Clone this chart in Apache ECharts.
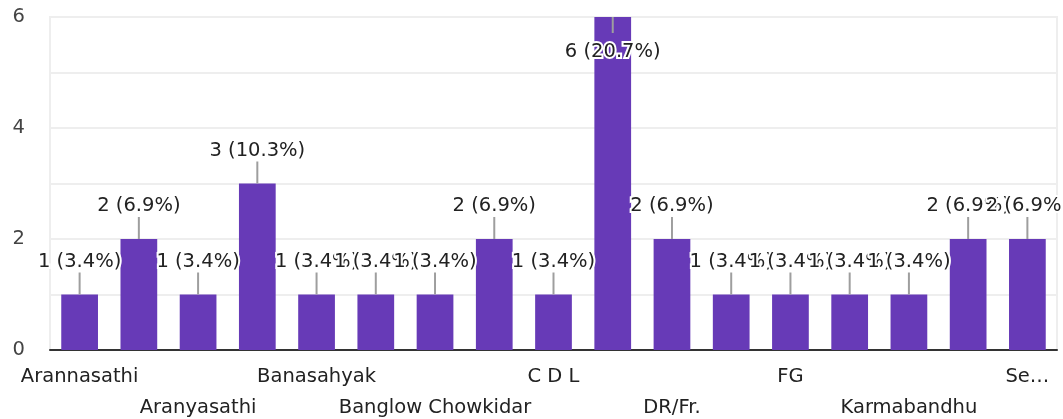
<!DOCTYPE html>
<html>
<head>
<meta charset="utf-8">
<script src="https://cdn.jsdelivr.net/npm/echarts@6/dist/echarts.min.js"></script>
<style>
  html, body { margin: 0; padding: 0; background: #fff; }
  #chart { width: 1063px; height: 419px; }
</style>
</head>
<body>
<div id="chart"></div>
<script>
// Categories (hidden labels between the shown ones are guesses; only every other label is visible)
const categories = ['Arannasathi', 'Aranya Rakshi', 'Aranyasathi', 'Banarakshi', 'Banasahyak', 'Banasramik',
  'Banglow Chowkidar', 'Beat Officer', 'C D L', 'Chowkidar', 'DR/Fr.', 'Driver', 'FG', 'Head Clerk',
  'Karmabandhu', 'Ranger', 'Se…'];
const counts = [1, 2, 1, 3, 1, 1, 1, 2, 1, 6, 2, 1, 1, 1, 1, 2, 2];
const yTicks = [0, 2, 4, 6];

const total = counts.reduce((a, b) => a + b, 0);
const FONT = '"DejaVu Sans", sans-serif';
const FS = 19.5;

const chart = echarts.init(document.getElementById('chart'), null, { renderer: 'canvas' });

const option = {
  animation: false,
  backgroundColor: '#ffffff',
  grid: {
    left: 50, right: 6, top: 17, bottom: 69,
    containLabel: false,
    outerBoundsMode: 'none',
    show: true, borderColor: '#eeeeee', borderWidth: 2
  },
  xAxis: {
    type: 'category',
    data: categories,
    axisTick: { show: false },
    axisLine: { lineStyle: { color: '#333333', width: 2 } },
    axisLabel: {
      interval: 1,
      margin: 11,
      lineHeight: 31,
      fontSize: FS,
      fontFamily: FONT,
      color: '#222222',
      formatter: (value, index) => (index % 4 === 2 ? '\n' + value : value)
    }
  },
  yAxis: {
    type: 'value',
    min: 0,
    max: 6,
    interval: 1,
    axisLine: { show: true, lineStyle: { color: '#eeeeee', width: 2 } },
    axisTick: { show: false },
    splitLine: { lineStyle: { color: '#eeeeee', width: 2 } },
    axisLabel: {
      margin: 25,
      fontSize: FS,
      fontFamily: FONT,
      color: '#444444',
      formatter: v => (yTicks.indexOf(v) >= 0 ? String(v) : '')
    }
  },
  series: [
    {
      type: 'bar',
      data: counts,
      barWidth: '62%',
      itemStyle: { color: '#673ab7' },
      z: 2
    },
    {
      type: 'custom',
      z: 5,
      data: counts.map((v, i) => [i, v]),
      encode: { x: 0, y: 1 },
      renderItem: function (params, api) {
        const i = api.value(0);
        const v = api.value(1);
        const pt = api.coord([i, v]);
        const x = pt[0], y = pt[1];
        const inside = (y - 45) < 0;
        const lineEnd = inside ? y + 16 : y - 22;
        const textY = inside ? y + 35 : y - 33;
        const label = v + ' (' + (v / total * 100).toFixed(1) + '%)';
        return {
          type: 'group',
          children: [
            {
              type: 'line',
              shape: { x1: x, y1: y, x2: x, y2: lineEnd },
              style: { stroke: '#9e9e9e', lineWidth: 2 }
            },
            {
              type: 'text',
              style: {
                x: x,
                y: textY,
                text: label,
                fill: '#222222',
                stroke: '#ffffff',
                lineWidth: 4,
                fontSize: FS,
                fontFamily: FONT,
                align: 'center',
                verticalAlign: 'middle'
              }
            }
          ]
        };
      }
    }
  ]
};

chart.setOption(option);
</script>
</body>
</html>
